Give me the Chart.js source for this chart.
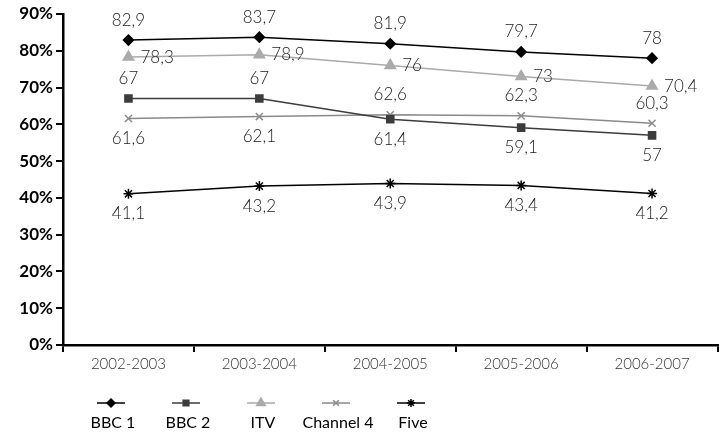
<!DOCTYPE html>
<html>
<head>
<meta charset="utf-8">
<script src="https://cdn.jsdelivr.net/npm/chart.js@4.4.1/dist/chart.umd.min.js"></script>
<style>
html,body{margin:0;padding:0;background:#fff;}
#wrap{width:725px;height:434px;}
</style>
</head>
<body>
<div id="wrap"><canvas id="c" width="725" height="434"></canvas></div>
<script>
const categories = ['2002-2003','2003-2004','2004-2005','2005-2006','2006-2007'];
const seriesNames = ['BBC 1','BBC 2','ITV','Channel 4','Five'];
const bbc1 = [82.9, 83.7, 81.9, 79.7, 78];
const bbc2 = [67, 67, 61.4, 59.1, 57];
const itv = [78.3, 78.9, 76, 73, 70.4];
const channel4 = [61.6, 62.1, 62.6, 62.3, 60.3];
const five = [41.1, 43.2, 43.9, 43.4, 41.2];
const yTicks = [0,10,20,30,40,50,60,70,80,90];

// styling (not data)
const styles = [
  {color:'#000000', point:'rectRot', radius:5, labelPos:['above','above','above','above','above']},
  {color:'#3c3c3c', point:'rect', radius:5, labelPos:['above','above','below','below','below']},
  {color:'#aaaaaa', point:'triangle', radius:6, labelPos:['right','right','right','right','right']},
  {color:'#8a8a8a', point:'crossRot', radius:5, labelPos:['below','below','above','above','above']},
  {color:'#000000', point:'star', radius:5, labelPos:['below','below','below','below','below']}
];
const allSeries = [bbc1, bbc2, itv, channel4, five];
const fmt = v => String(v).replace('.', ',');
const FONT = 'Lato, "Open Sans", sans-serif';

const datasets = allSeries.map((d,i)=>({
  label: seriesNames[i],
  data: d,
  borderColor: styles[i].color,
  backgroundColor: styles[i].color,
  pointBackgroundColor: styles[i].color,
  pointBorderColor: styles[i].color,
  pointStyle: styles[i].point,
  pointRadius: styles[i].radius,
  pointBorderWidth: 1.5,
  borderWidth: 1.5,
  tension: 0,
  fill: false
}));

const labelPlugin = {
  id:'valueLabels',
  afterDatasetsDraw(chart){
    const ctx = chart.ctx;
    ctx.save();
    ctx.font = '300 17px ' + FONT;
    ctx.fillStyle = '#222';
    chart.data.datasets.forEach((ds,i)=>{
      const meta = chart.getDatasetMeta(i);
      meta.data.forEach((pt,j)=>{
        const pos = styles[i].labelPos[j];
        let x = pt.x, y = pt.y;
        if(pos==='above'){ctx.textAlign='center';ctx.textBaseline='middle';y-=20;}
        else if(pos==='below'){ctx.textAlign='center';ctx.textBaseline='middle';y+=20;}
        else {ctx.textAlign='left';ctx.textBaseline='middle';x+=12;}
        ctx.fillText(fmt(ds.data[j]), x, y);
      });
    });
    ctx.restore();
  }
};

const legendPlugin = {
  id:'bottomLegend',
  afterDraw(chart){
    const ctx = chart.ctx;
    ctx.save();
    const startX = 111, step = 75, lineY = 403, textY = 423;
    chart.data.datasets.forEach((ds,i)=>{
      const cx = startX + step*i;
      ctx.strokeStyle = styles[i].color;
      ctx.lineWidth = 1.5;
      ctx.beginPath();
      ctx.moveTo(cx-14, lineY);
      ctx.lineTo(cx+14, lineY);
      ctx.stroke();
      ctx.fillStyle = styles[i].color;
      Chart.helpers.drawPoint(ctx, {pointStyle: styles[i].point, radius: styles[i].radius-1, rotation:0, borderWidth:1.5}, cx, lineY);
      ctx.fillStyle = '#000';
      ctx.font = '16px ' + FONT;
      ctx.textAlign = 'center';
      ctx.textBaseline = 'middle';
      ctx.fillText(ds.label, cx+2, textY);
    });
    ctx.restore();
  }
};

new Chart(document.getElementById('c'), {
  type:'line',
  data:{labels:categories, datasets},
  options:{
    responsive:false,
    animation:false,
    devicePixelRatio:1,
    layout:{padding:{left:8, right:1, top:14, bottom:58}},
    plugins:{legend:{display:false}, tooltip:{enabled:false}},
    scales:{
      x:{
        offset:true,
        grid:{display:true, drawOnChartArea:false, drawTicks:true, tickLength:7, color:'#000', lineWidth:2, offset:true},
        border:{display:true, color:'#000', width:2.5},
        ticks:{color:'#333', font:{family:FONT, size:15, weight:'300'}, padding:3}
      },
      y:{
        min:0, max:90,
        afterBuildTicks(scale){ scale.ticks = yTicks.map(v=>({value:v})); },
        afterFit(scale){ scale.width = 55; },
        grid:{display:true, drawOnChartArea:false, drawTicks:true, tickLength:7, color:'#000', lineWidth:2},
        border:{display:true, color:'#000', width:2.5},
        ticks:{color:'#000', font:{family:FONT, size:17, weight:'bold'}, padding:3, callback:v=>v+'%'}
      }
    }
  },
  plugins:[labelPlugin, legendPlugin]
});
</script>
</body>
</html>
